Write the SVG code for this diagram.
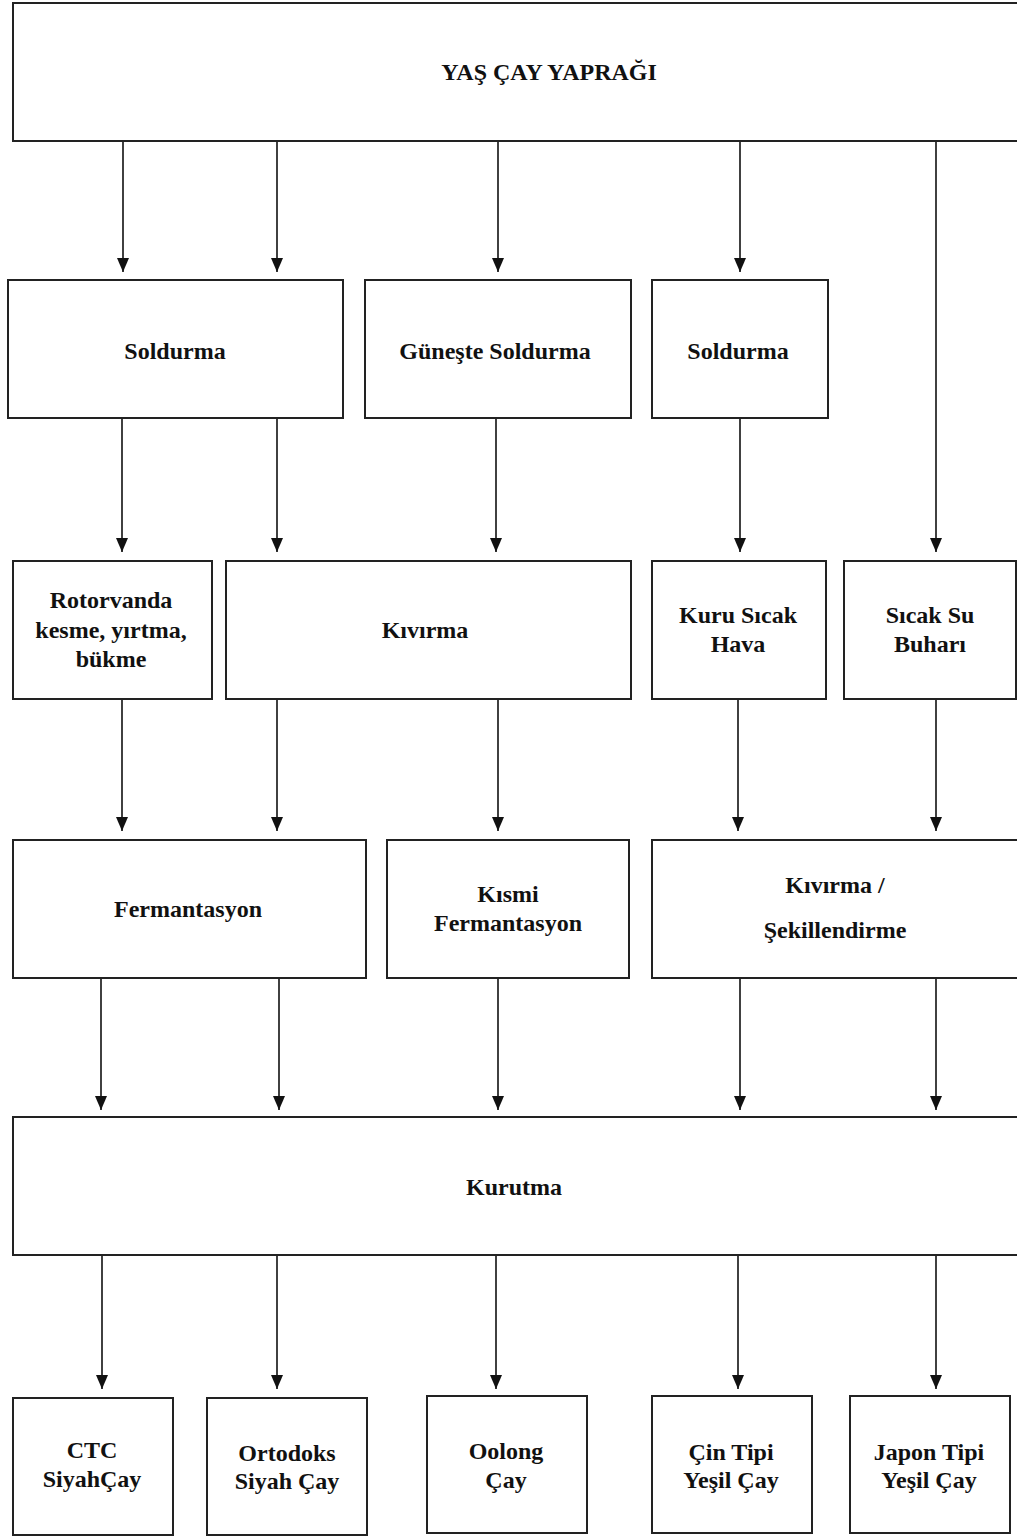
<svg xmlns="http://www.w3.org/2000/svg" width="1017" height="1537" viewBox="0 0 1017 1537">
<defs>
<marker id="ah" markerUnits="userSpaceOnUse" markerWidth="14" markerHeight="12" refX="14" refY="6" orient="auto" viewBox="0 0 14 12">
<path d="M0,0 L14,6 L0,12 Z" fill="#111"/>
</marker>
<style>
.box{fill:#fff;stroke:#222;stroke-width:2}
.t{font-family:"Liberation Serif","Times New Roman",serif;font-weight:bold;font-size:24px;fill:#111;text-anchor:middle}
.c{stroke:#111;stroke-width:1.6;fill:none}
</style>
</defs>
<rect width="1017" height="1537" fill="#fff"/>
<g id="connectors">
<line class="c" x1="123" y1="141" x2="123" y2="272" marker-end="url(#ah)"/>
<line class="c" x1="277" y1="141" x2="277" y2="272" marker-end="url(#ah)"/>
<line class="c" x1="498" y1="141" x2="498" y2="272" marker-end="url(#ah)"/>
<line class="c" x1="740" y1="141" x2="740" y2="272" marker-end="url(#ah)"/>
<line class="c" x1="936" y1="141" x2="936" y2="552" marker-end="url(#ah)"/>
<line class="c" x1="122" y1="418" x2="122" y2="552" marker-end="url(#ah)"/>
<line class="c" x1="277" y1="418" x2="277" y2="552" marker-end="url(#ah)"/>
<line class="c" x1="496" y1="418" x2="496" y2="552" marker-end="url(#ah)"/>
<line class="c" x1="740" y1="418" x2="740" y2="552" marker-end="url(#ah)"/>
<line class="c" x1="122" y1="699" x2="122" y2="831" marker-end="url(#ah)"/>
<line class="c" x1="277" y1="699" x2="277" y2="831" marker-end="url(#ah)"/>
<line class="c" x1="498" y1="699" x2="498" y2="831" marker-end="url(#ah)"/>
<line class="c" x1="738" y1="699" x2="738" y2="831" marker-end="url(#ah)"/>
<line class="c" x1="936" y1="699" x2="936" y2="831" marker-end="url(#ah)"/>
<line class="c" x1="101" y1="978" x2="101" y2="1110" marker-end="url(#ah)"/>
<line class="c" x1="279" y1="978" x2="279" y2="1110" marker-end="url(#ah)"/>
<line class="c" x1="498" y1="978" x2="498" y2="1110" marker-end="url(#ah)"/>
<line class="c" x1="740" y1="978" x2="740" y2="1110" marker-end="url(#ah)"/>
<line class="c" x1="936" y1="978" x2="936" y2="1110" marker-end="url(#ah)"/>
<line class="c" x1="102" y1="1255" x2="102" y2="1389" marker-end="url(#ah)"/>
<line class="c" x1="277" y1="1255" x2="277" y2="1389" marker-end="url(#ah)"/>
<line class="c" x1="496" y1="1255" x2="496" y2="1389" marker-end="url(#ah)"/>
<line class="c" x1="738" y1="1255" x2="738" y2="1389" marker-end="url(#ah)"/>
<line class="c" x1="936" y1="1255" x2="936" y2="1389" marker-end="url(#ah)"/>
</g>
<g id="yas-cay-yapragi"><rect class="box" x="13" y="3" width="1020" height="138"/><text class="t" x="549" y="80">YAŞ ÇAY YAPRAĞI</text></g>
<g id="soldurma1"><rect class="box" x="8" y="280" width="335" height="138"/><text class="t" x="175" y="359">Soldurma</text></g>
<g id="guneste-soldurma"><rect class="box" x="365" y="280" width="266" height="138"/><text class="t" x="495" y="359">Güneşte Soldurma</text></g>
<g id="soldurma2"><rect class="box" x="652" y="280" width="176" height="138"/><text class="t" x="738" y="359">Soldurma</text></g>
<g id="rotorvanda"><rect class="box" x="13" y="561" width="199" height="138"/><text class="t" x="111" y="608">Rotorvanda</text><text class="t" x="111" y="638">kesme, yırtma,</text><text class="t" x="111" y="667">bükme</text></g>
<g id="kivirma"><rect class="box" x="226" y="561" width="405" height="138"/><text class="t" x="425" y="638">Kıvırma</text></g>
<g id="kuru-sicak-hava"><rect class="box" x="652" y="561" width="174" height="138"/><text class="t" x="738" y="623">Kuru Sıcak</text><text class="t" x="738" y="652">Hava</text></g>
<g id="sicak-su-buhari"><rect class="box" x="844" y="561" width="172" height="138"/><text class="t" x="930" y="623">Sıcak Su</text><text class="t" x="930" y="652">Buharı</text></g>
<g id="fermantasyon"><rect class="box" x="13" y="840" width="353" height="138"/><text class="t" x="188" y="917">Fermantasyon</text></g>
<g id="kismi-fermantasyon"><rect class="box" x="387" y="840" width="242" height="138"/><text class="t" x="508" y="902">Kısmi</text><text class="t" x="508" y="931">Fermantasyon</text></g>
<g id="kivirma-sekillendirme"><rect class="box" x="652" y="840" width="380" height="138"/><text class="t" x="835" y="893">Kıvırma /</text><text class="t" x="835" y="938">Şekillendirme</text></g>
<g id="kurutma"><rect class="box" x="13" y="1117" width="1020" height="138"/><text class="t" x="514" y="1195">Kurutma</text></g>
<g id="ctc"><rect class="box" x="13" y="1398" width="160" height="137"/><text class="t" x="92" y="1458">CTC</text><text class="t" x="92" y="1487">SiyahÇay</text></g>
<g id="ortodoks"><rect class="box" x="207" y="1398" width="160" height="137"/><text class="t" x="287" y="1461">Ortodoks</text><text class="t" x="287" y="1489">Siyah Çay</text></g>
<g id="oolong"><rect class="box" x="427" y="1396" width="160" height="137"/><text class="t" x="506" y="1459">Oolong</text><text class="t" x="506" y="1488">Çay</text></g>
<g id="cin-tipi"><rect class="box" x="652" y="1396" width="160" height="137"/><text class="t" x="731" y="1460">Çin Tipi</text><text class="t" x="731" y="1488">Yeşil Çay</text></g>
<g id="japon-tipi"><rect class="box" x="850" y="1396" width="160" height="137"/><text class="t" x="929" y="1460">Japon Tipi</text><text class="t" x="929" y="1488">Yeşil Çay</text></g>
</svg>
